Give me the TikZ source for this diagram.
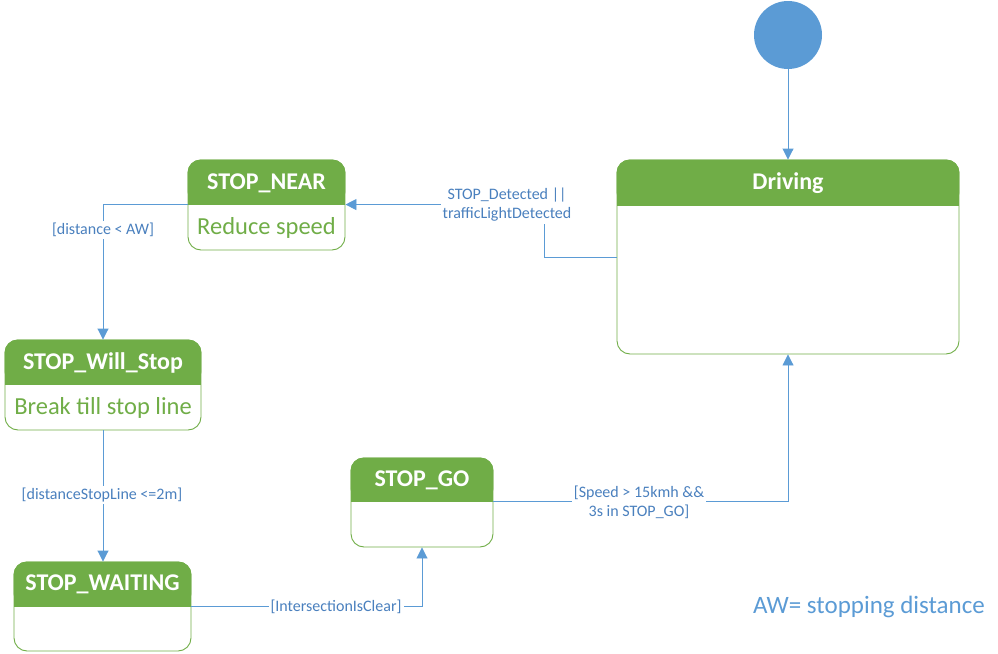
\documentclass[tikz,border=0pt]{standalone}
\usepackage{fontspec}
\setmainfont{Carlito}
\usetikzlibrary{arrows.meta}
\definecolor{stategreen}{HTML}{70AD47}
\definecolor{edgeblue}{HTML}{5B9BD5}
\definecolor{guardblue}{HTML}{4A80BE}
\tikzset{
  statebox/.style={rectangle, draw=stategreen, rounded corners=13pt, inner sep=0pt, line width=0.9pt},
  statetitle/.style={text=white, font=\bfseries\fontsize{24}{27}\selectfont},
  statebody/.style={text=stategreen, font=\fontsize{24.5}{28}\selectfont},
  trans/.style={draw=edgeblue, line width=0.9pt, -{Triangle[length=11pt,width=11pt]}},
  guard/.style={text=guardblue, font=\fontsize{16}{19}\selectfont, fill=white, inner sep=2pt, align=center},
}
\begin{document}
\begin{tikzpicture}[x=1pt,y=-1pt]
\useasboundingbox (0,0) rectangle (998,653);
% states: name/centre x/centre y/width/height/header height
\foreach \st/\cx/\cy/\w/\h/\hd in {drive/788/257/342/194/46, near/266.5/205/157/90/45, will/103/385/196/90/45, go/422/502.5/142/89/44, wait/102.5/606.5/177/89/45}{
  \node[statebox, minimum width=\w, minimum height=\h] (\st) at (\cx,\cy) {};
  \fill[stategreen, rounded corners=13pt] (\st.north west) rectangle ([yshift=-\hd]\st.north east);
  \fill[stategreen] ([yshift=-\hd+15]\st.north west) rectangle ([yshift=-\hd]\st.north east);
  \coordinate (\st-div) at ([yshift=-\hd]\st.north);
}
\node[circle, fill=edgeblue, minimum size=68pt, inner sep=0pt] (init) at (788,35) {};

% titles and activities
\node[statetitle] (drive-t) at (788,183) {Driving};
\node[statetitle] (near-t) at (266.5,183) {STOP\_NEAR};
\node[statetitle] (will-t) at (103,363) {STOP\_Will\_Stop};
\node[statetitle] (go-t) at (422,480) {STOP\_GO};
\node[statetitle] (wait-t) at (102.5,584) {STOP\_WAITING};
\node[statebody] (near-b) at (266.5,228) {Reduce speed};
\node[statebody] (will-b) at (103,408) {Break till stop line};

% transitions
\draw[trans] (init) -- (drive);
\draw[trans] (drive.west) -- ++(-72,0) |- (near-div -| near.east);
\draw[trans] (near-div -| near.west) -| (will.north);
\draw[trans] (will.south) -- (will.south |- wait.north);
\draw[trans] (wait-div -| wait.east) -| (go.south);
\draw[trans] (go-div -| go.east) -| (drive.south);

% guards
\node[guard] (g-detect) at (507,205) {STOP\_Detected ||\\trafficLightDetected};
\node[guard] (g-dist) at (103,230) {[distance < AW]};
\node[guard] (g-line) at (102,495) {[distanceStopLine <=2m]};
\node[guard] (g-clear) at (336,607) {[IntersectionIsClear]};
\node[guard] (g-speed) at (639,502) {[Speed > 15kmh \&\&\\3s in STOP\_GO]};

\node[text=edgeblue, font=\fontsize{25}{28}\selectfont] (aw) at (869,607) {AW= stopping distance};
\end{tikzpicture}
\end{document}
